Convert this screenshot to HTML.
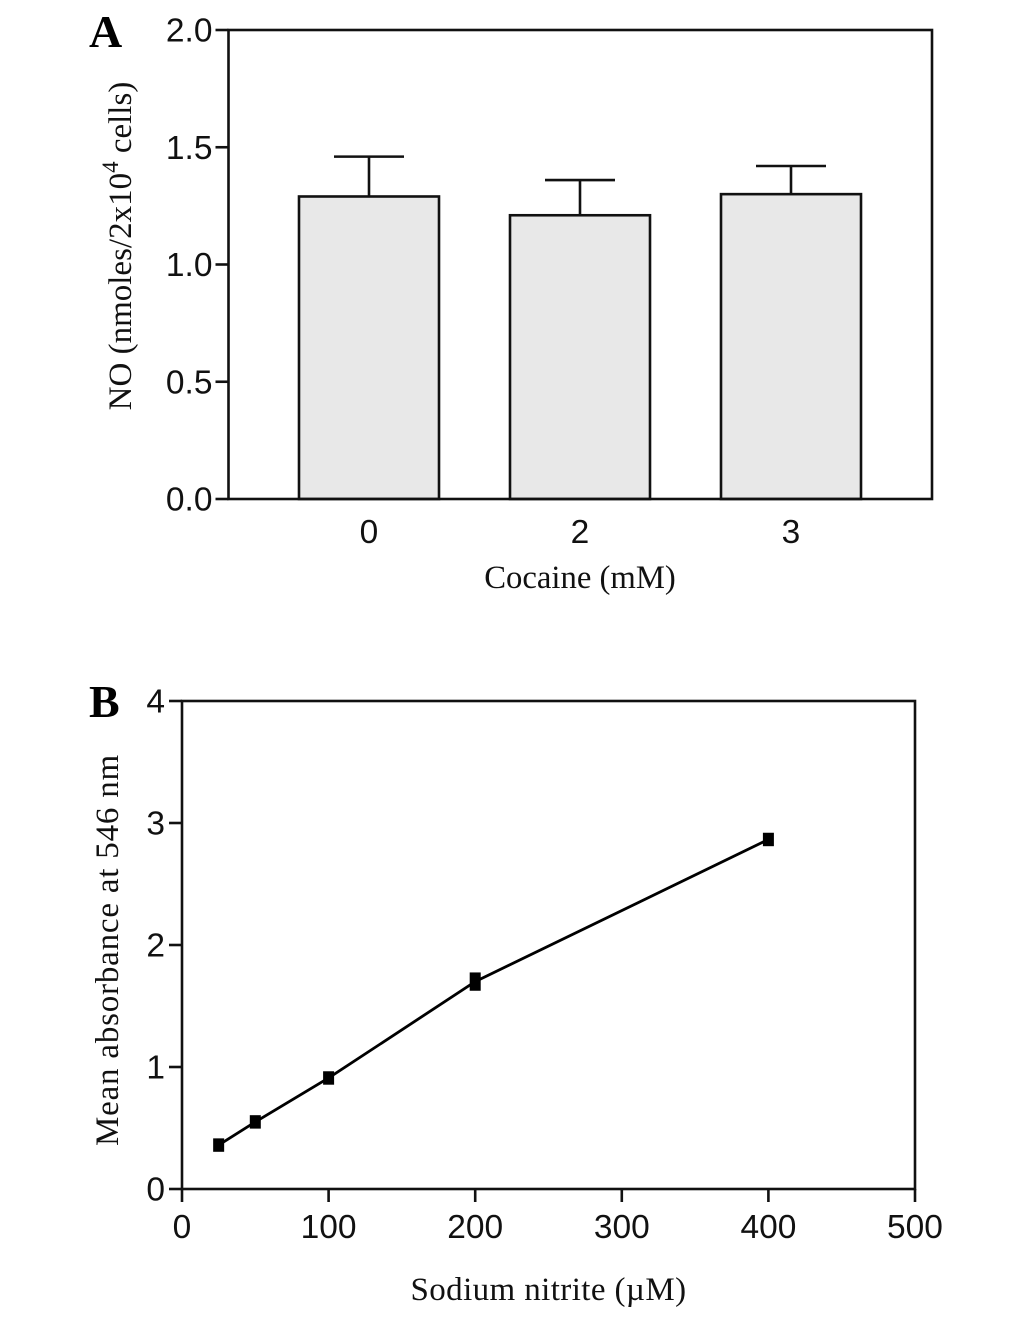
<!DOCTYPE html>
<html>
<head>
<meta charset="utf-8">
<style>
html,body{margin:0;padding:0;background:#fff;}
svg{display:block;}
.tick{font-family:"Liberation Sans",sans-serif;font-size:33.5px;fill:#111;}
.title{font-family:"Liberation Serif",serif;font-size:33px;fill:#111;}
.panel{font-family:"Liberation Serif",serif;font-size:46px;font-weight:bold;fill:#000;}
</style>
</head>
<body>
<svg id="chart" xmlns="http://www.w3.org/2000/svg" width="1033" height="1326" viewBox="0 0 1033 1326">
<rect width="1033" height="1326" fill="#fff"/>
<g id="panelA"></g>
<g id="panelB"></g>
<text class="panel" x="89" y="47">A</text>
<text class="panel" x="89" y="717">B</text>
<text class="title" text-anchor="middle" transform="translate(131,246) rotate(-90)">NO (nmoles/2x10<tspan font-size="23" dy="-13">4</tspan><tspan dy="13"> cells)</tspan></text>
<text class="title" text-anchor="middle" x="580" y="588" style="font-size:32.7px">Cocaine (mM)</text>
<text class="title" text-anchor="middle" transform="translate(118,950) rotate(-90)" style="font-size:33px;letter-spacing:0.8px">Mean absorbance at 546 nm</text>
<text class="title" text-anchor="middle" x="548.5" y="1300" style="font-size:33px;letter-spacing:0.4px">Sodium nitrite (µM)</text>
</svg>
<script>
const barCategories = ['0', '2', '3'];
const barValues = [1.29, 1.21, 1.30];
const barErrors = [0.17, 0.15, 0.12];
const barYTicks = ['0.0', '0.5', '1.0', '1.5', '2.0'];

const lineX = [25, 50, 100, 200, 400];
const lineY = [0.36, 0.55, 0.91, 1.70, 2.865];
const lineErr = [0.01, 0.01, 0.01, 0.03, 0.01];
const lineXTicks = ['0', '100', '200', '300', '400', '500'];
const lineYTicks = ['0', '1', '2', '3', '4'];

const NS = 'http://www.w3.org/2000/svg';
const INK = '#111';

function make(parent, tag, attrs, name) {
  const el = document.createElementNS(NS, tag);
  for (const k in attrs) el.setAttribute(k, attrs[k]);
  
  
  parent.appendChild(el);
  return el;
}
function seg(parent, x1, y1, x2, y2, name) {
  return make(parent, 'line', {x1: x1, y1: y1, x2: x2, y2: y2, stroke: INK, 'stroke-width': 2.6}, name);
}
function label(parent, x, y, str, anchor, name) {
  const t = make(parent, 'text', {x: x, y: y, 'text-anchor': anchor, class: 'tick'}, name);
  t.textContent = str;
  return t;
}

/* Panel A */
const gA = document.getElementById('panelA');
const aL = 228.5, aR = 932, aT = 30, aB = 499, aMax = 2;
const aY = v => aB - (v / aMax) * (aB - aT);
const aBandStart = 369, aBandStep = 211, aBarW = 140, aCapW = 70;
const aX = i => aBandStart + i * aBandStep;

barValues.forEach(function (v, i) {
  const cx = aX(i);
  seg(gA, cx, aY(v), cx, aY(v + barErrors[i]), 'error-bar-stem-' + barCategories[i]);
  seg(gA, cx - aCapW / 2, aY(v + barErrors[i]), cx + aCapW / 2, aY(v + barErrors[i]), 'error-bar-cap-' + barCategories[i]);
  make(gA, 'rect', {x: cx - aBarW / 2, y: aY(v), width: aBarW, height: aB - aY(v), fill: '#e8e8e8', stroke: INK, 'stroke-width': 2.6}, 'bar-' + barCategories[i]);
  label(gA, cx, 543, barCategories[i], 'middle', 'x-tick-label-' + barCategories[i]);
});
make(gA, 'rect', {x: aL, y: aT, width: aR - aL, height: aB - aT, fill: 'none', stroke: INK, 'stroke-width': 2.6}, 'plot-frame');
barYTicks.forEach(function (s) {
  const y = aY(parseFloat(s));
  seg(gA, aL - 13, y, aL, y, 'y-tick-' + s);
  label(gA, aL - 16, y + 11.5, s, 'end', 'y-tick-label-' + s);
});

/* Panel B */
const gB = document.getElementById('panelB');
const bL = 182, bR = 915, bT = 701, bB = 1189, bXMax = 500, bYMax = 4;
const bX = v => bL + (v / bXMax) * (bR - bL);
const bY = v => bB - (v / bYMax) * (bB - bT);

make(gB, 'rect', {x: bL, y: bT, width: bR - bL, height: bB - bT, fill: 'none', stroke: INK, 'stroke-width': 2.6}, 'plot-frame-b');
lineXTicks.forEach(function (s) {
  const x = bX(parseFloat(s));
  seg(gB, x, bB, x, bB + 13, 'x-tick-' + s);
  label(gB, x, 1238, s, 'middle', 'x-tick-label-' + s);
});
lineYTicks.forEach(function (s) {
  const y = bY(parseFloat(s));
  seg(gB, bL - 13, y, bL, y, 'y-tick-b-' + s);
  label(gB, bL - 17, y + 11.5, s, 'end', 'y-tick-label-b-' + s);
});
make(gB, 'polyline', {
  points: lineX.map((x, i) => bX(x) + ',' + bY(lineY[i])).join(' '),
  fill: 'none', stroke: '#000', 'stroke-width': 2.8
}, 'absorbance-line');
lineX.forEach(function (x, i) {
  const s = 11;
  const top = bY(lineY[i] + lineErr[i]);
  const bot = bY(lineY[i] - lineErr[i]);
  make(gB, 'rect', {x: bX(x) - s / 2, y: top - s / 2, width: s, height: bot - top + s, fill: '#000'}, 'point-' + x);
});
</script>
</body>
</html>
